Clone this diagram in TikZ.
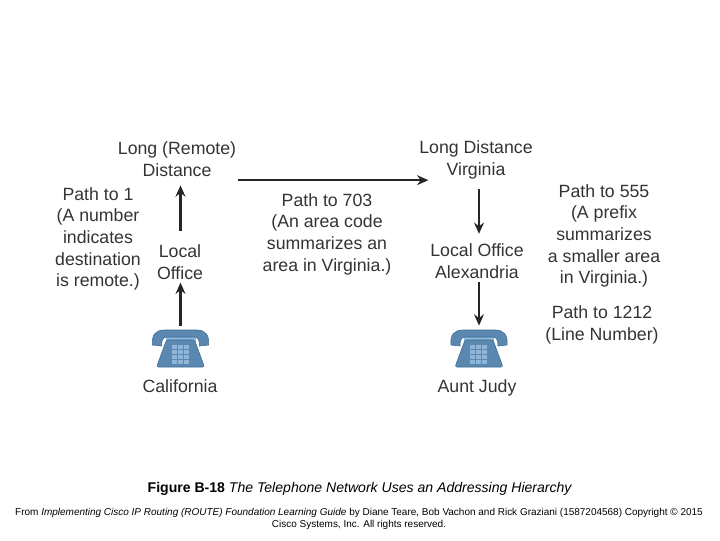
\documentclass[tikz,border=0pt]{standalone}
\usepackage{fontspec}
\setmainfont{Liberation Sans}
\usetikzlibrary{arrows.meta}
\definecolor{labelgray}{HTML}{333333}
\definecolor{phonebody}{HTML}{5A88B0}
\definecolor{phoneline}{HTML}{3A6A94}
\definecolor{phonekey}{HTML}{8FB6D8}
\newcommand{\drawphone}[1]{
    \begin{scope}[shift={(#1)}]
        \fill[phonekey] (-15,-14) rectangle (15,-8);
        \draw[phoneline, fill=phonebody, thin, rounded corners=1.5pt] (-14,-10) -- (14,-10) -- (24,17) -- (-24,17) -- cycle;
        \draw[phoneline, fill=phonebody, thin] (-28,-5) .. controls (-29,-15) and (-25,-20) .. (-16,-20) -- (16,-20) .. controls (25,-20) and (29,-15) .. (28,-5) -- (19,-4) .. controls (19,-9) and (18,-13) .. (14,-13) -- (-14,-13) .. controls (-18,-13) and (-19,-9) .. (-19,-4) -- cycle;
        \foreach \col in {-9,-3,3} {
            \foreach \row in {-5,0,5,10} {
                \fill[phonekey] (\col,\row) rectangle ++(5,3.6);
            }
        }
    \end{scope}
}
\begin{document}
\begin{tikzpicture}[
            x = 0.025cm,
            y = -0.025cm,
            > = {Stealth[length=8pt, width=7pt]}, % arrow head style
            semithick
        ]

        \tikzstyle{label}=[
            text = labelgray,
            align = center,
            inner sep = 1pt,
            font = \fontsize{12.6}{15.4}\selectfont
        ]
        \tikzstyle{phone}=[
            minimum width = 1.4cm,
            minimum height = 1.2cm,
            inner sep = 0pt
        ]
        \tikzstyle{link}=[
            ->,
            line width = 1.7pt,
            draw = black!85
        ]

        \useasboundingbox (0,0) rectangle (720,540);

        \node[label] (LD) at (177,159) {Long (Remote) \\ Distance};
        \node[label] (VA) at (476,160) {Long Distance \\ Virginia};
        \node[label] (LO) at (180,262) {Local \\ Office};
        \node[label] (AX) at (477,261) {Local Office \\ Alexandria};

        \node[phone] (CA) at (180.5,350) {};
        \node[phone] (AJ) at (479,350) {};
        \drawphone{180.5,350}
        \drawphone{479,350}

        \node[label] (CAname) at (180,386) {California};
        \node[label] (AJname) at (477,388) {Aunt Judy};

        \node[label] (P1) at (98,239) {Path to 1 \\ (A number \\ indicates \\ destination \\ is remote.)};
        \node[label] (P703) at (327,234) {Path to 703 \\ (An area code \\ summarizes an \\ area in Virginia.)};
        \node[label] (P555) at (604,236) {Path to 555 \\ (A prefix \\ summarizes \\ a smaller area \\ in Virginia.)};
        \node[label] (P1212) at (602,325) {Path to 1212 \\ (Line Number)};

        \node[font=\fontsize{10}{12}\selectfont] (caption) at (360,489) {\textbf{Figure B-18} \textit{The Telephone Network Uses an Addressing Hierarchy}};
        \node[align=center, inner sep=0pt, font=\fontsize{7.1}{8.5}\selectfont] (source) at (359,519) {From \textit{Implementing Cisco IP Routing (ROUTE) Foundation Learning Guide} by Diane Teare, Bob Vachon and Rick Graziani (1587204568) Copyright © 2015 \\ Cisco Systems, Inc. All rights reserved.};

        \coordinate (LDout) at ([yshift=-0.05cm]LD.south east);

        \draw[link, shorten >=1pt] (CA.north) -- (LO.south -| CA);
        \draw[link, shorten <=0.3cm, shorten >=0.18cm] (LO.north -| CA) -- (LD.south -| CA);
        \draw[link, line width=1.2pt] (LDout) -- ([xshift=0.27cm]VA.west |- LDout);
        \draw[link, shorten <=0.2cm, shorten >=0.2cm] (VA.south -| AJ) -- (AX.north -| AJ);
        \draw[link, shorten <=1pt] (AX.south -| AJ) -- (AJ.north);

    \end{tikzpicture}
\end{document}
